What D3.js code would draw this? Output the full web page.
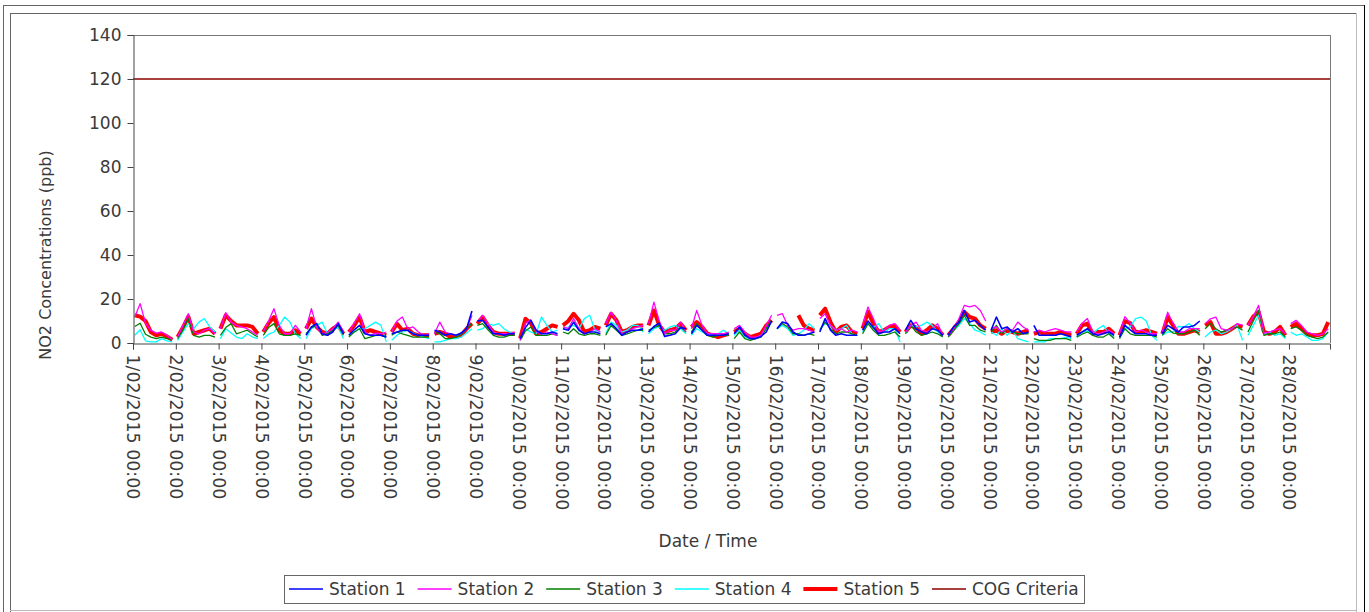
<!DOCTYPE html>
<html>
<head>
<meta charset="utf-8">
<script src="https://cdn.jsdelivr.net/npm/d3@7"></script>
<style>
  html, body { margin: 0; padding: 0; background: #fff; }
  svg { display: block; font-family: "DejaVu Sans", sans-serif; }
</style>
</head>
<body>
<svg id="chart" width="1369" height="612"></svg>
<script>
// sample hours inside each day (3-hourly)
const sampleHours = [1, 4, 7, 10, 13, 16, 19, 22];
const dayCount = 28;
const yTicks = [0, 20, 40, 60, 80, 100, 120, 140];
const criteria = 120;
const seriesNames = ["Station 1", "Station 2", "Station 3", "Station 4", "Station 5"];

const station1 = [
  null, null, null, null, null, null, null, null,
  null, null, null, null, null, null, null, null,
  null, null, null, null, null, null, null, null,
  null, null, null, null, null, null, null, null,
  3.5, 7.3, 8.8, 4.2, 3.5, 5.0, 8.8, 4.2,
  3.5, 6.0, 8.0, 4.2, 3.5, 3.5, 3.5, 2.7,
  4.2, 5.0, 5.8, 5.8, 4.2, 3.5, 3.5, 3.5,
  5.8, 5.0, 3.5, 4.2, 3.5, 4.5, 6.5, 14.5,
  10.0, 10.3, 7.3, 4.2, 4.2, 3.5, 4.2, 4.2,
  2.0, 7.0, 10.3, 5.8, 4.2, 4.2, 5.0, 4.2,
  6.5, 5.8, 9.5, 5.8, 4.2, 5.0, 5.0, 4.2,
  7.3, 8.8, 6.5, 3.5, 5.0, 5.8, 5.8, 6.5,
  5.0, 7.5, 9.0, 3.0, 3.5, 4.2, 7.0, 6.5,
  4.2, 8.0, 5.8, 3.5, 3.5, 3.5, 3.5, 4.2,
  4.2, 7.3, 3.5, 2.0, 2.0, 3.0, 5.0, 10.0,
  6.5, 9.5, 8.8, 5.0, 3.5, 3.5, 4.2, 5.0,
  5.0, 11.1, 5.8, 3.5, 4.2, 3.5, 3.5, 3.5,
  5.8, 10.0, 7.0, 4.2, 5.0, 5.0, 6.5, 4.2,
  5.8, 10.3, 6.5, 5.0, 4.2, 6.5, 5.8, 3.5,
  3.5, 7.3, 9.5, 14.8, 9.5, 10.3, 8.0, 5.8,
  5.8, 11.8, 6.5, 7.3, 5.0, 6.5, 4.2, 5.0,
  8.0, 3.5, 3.5, 3.5, 3.5, 4.2, 3.5, 2.7,
  3.5, 5.0, 6.5, 4.2, 3.5, 4.2, 5.0, 3.5,
  2.7, 8.0, 6.0, 4.2, 4.2, 4.2, 3.5, 3.5,
  4.2, 8.0, 6.5, 5.0, 7.3, 7.3, 8.0, 10.0,
  null, null, null, null, null, null, null, null,
  null, null, null, null, null, null, null, null,
  null, null, null, null, null, null, null, null
];

const station2 = [
  11.8, 17.9, 9.0, 5.8, 4.5, 5.0, 3.5, 1.5,
  2.7, 8.0, 13.3, 5.0, 4.2, 5.8, 6.5, 4.2,
  6.5, 13.8, 9.5, 8.0, 7.3, 6.5, 5.0, 3.5,
  5.0, 10.0, 15.6, 8.0, 4.2, 4.2, 8.0, 5.0,
  6.5, 15.6, 7.0, 4.2, 5.0, 6.5, 9.5, 5.0,
  5.0, 9.0, 13.3, 5.0, 3.5, 4.5, 4.2, 5.0,
  5.0, 10.0, 11.8, 6.5, 7.3, 5.0, 3.5, 4.2,
  4.2, 9.5, 5.0, 4.2, 3.5, 4.5, 6.5, 12.5,
  9.5, 12.6, 8.8, 5.0, 4.2, 4.2, 4.2, 5.0,
  1.2, 9.0, 10.5, 5.0, 4.2, 5.0, 4.2, 3.5,
  7.3, 6.5, 11.1, 6.5, 4.2, 5.0, 6.5, 5.0,
  8.8, 14.0, 10.0, 4.2, 5.0, 6.5, 7.3, 8.0,
  8.8, 18.6, 10.0, 4.2, 5.8, 5.8, 9.5, 5.0,
  6.5, 14.8, 8.0, 4.2, 4.2, 4.2, 4.2, 5.0,
  6.5, 8.0, 5.0, 2.7, 2.7, 3.5, 8.0, 12.6,
  12.6, 13.3, 8.0, 5.8, 6.5, 6.5, 5.8, 5.0,
  11.1, 13.3, 8.0, 5.8, 6.5, 5.0, 5.8, 5.0,
  8.0, 16.4, 11.1, 5.0, 5.8, 8.0, 8.8, 5.8,
  5.0, 8.0, 9.5, 5.8, 5.0, 6.5, 8.8, 3.5,
  3.5, 6.5, 11.0, 17.1, 16.4, 17.1, 14.8, 10.0,
  6.5, 7.3, 5.0, 6.5, 5.8, 9.5, 7.3, 5.8,
  5.0, 5.8, 5.0, 5.8, 6.5, 5.8, 5.0, 5.0,
  5.0, 9.0, 11.1, 5.0, 4.2, 5.0, 5.8, 4.2,
  4.2, 12.0, 9.0, 5.0, 5.8, 5.0, 4.2, 4.2,
  5.0, 14.0, 9.0, 5.0, 5.0, 6.5, 6.5, 6.5,
  8.8, 11.0, 11.8, 6.5, 5.8, 6.5, 8.8, 8.0,
  8.0, 12.0, 17.1, 4.5, 5.0, 5.8, 6.5, 4.2,
  8.8, 10.3, 8.0, 5.0, 4.2, 3.5, 4.2, 6.5
];

const station3 = [
  7.5, 9.0, 4.0, 2.7, 2.0, 2.7, 2.0, 1.5,
  2.0, 6.0, 11.1, 3.5, 2.7, 3.5, 3.5, 2.7,
  3.5, 7.0, 8.8, 4.2, 5.0, 5.8, 4.2, 2.7,
  3.5, 7.0, 8.8, 4.2, 3.5, 3.5, 4.2, 3.5,
  4.2, 7.0, 8.0, 3.5, 4.2, 5.8, 8.0, 3.5,
  2.7, 5.0, 6.5, 2.0, 2.7, 3.5, 3.5, 2.7,
  3.5, 5.0, 4.2, 3.5, 2.7, 2.7, 2.7, 2.7,
  5.0, 4.2, 2.0, 2.0, 2.7, 4.0, 6.5, 9.0,
  8.0, 8.8, 6.0, 3.5, 2.7, 2.7, 3.5, 3.5,
  1.2, 5.5, 7.3, 3.5, 3.5, 3.5, 4.2, 3.5,
  5.0, 4.2, 6.5, 4.2, 3.5, 4.2, 4.2, 3.5,
  3.5, 8.0, 5.8, 3.5, 4.2, 5.0, 5.8, 5.8,
  5.8, 7.0, 8.0, 4.2, 4.2, 5.0, 7.3, 5.0,
  5.0, 8.8, 5.8, 3.5, 2.7, 3.5, 3.5, 3.5,
  2.0, 5.0, 2.0, 1.2, 2.0, 2.7, 6.5, 10.3,
  6.5, 8.8, 7.3, 4.2, 4.2, 3.5, 4.2, 3.5,
  5.8, 9.5, 6.5, 4.2, 5.0, 5.0, 4.2, 3.5,
  4.2, 8.8, 5.8, 3.5, 3.5, 4.2, 5.0, 2.7,
  4.2, 8.0, 5.0, 3.5, 4.2, 5.0, 4.2, 2.7,
  2.7, 5.8, 8.8, 12.6, 8.0, 8.0, 5.8, 5.0,
  5.0, 8.0, 4.2, 6.5, 5.0, 4.2, 4.2, 4.2,
  2.0, 1.2, 1.2, 1.2, 2.0, 2.0, 2.0, 1.2,
  2.7, 4.0, 5.0, 3.5, 2.7, 2.7, 4.2, 2.0,
  2.0, 6.5, 4.2, 3.5, 3.5, 3.5, 3.5, 2.7,
  3.5, 6.5, 4.5, 4.2, 4.2, 5.0, 5.8, 3.5,
  6.5, 8.8, 6.5, 5.0, 5.8, 6.5, 7.3, 5.8,
  5.0, 10.0, 14.8, 3.5, 4.2, 4.2, 5.0, 2.7,
  6.5, 7.3, 5.8, 3.5, 2.7, 2.0, 2.7, 5.0
];

const station4 = [
  3.5, 6.0, 1.0, 0.5, 0.5, 2.0, 1.0, 0.5,
  1.2, 5.0, 8.8, 6.5, 9.5, 11.1, 7.3, 5.0,
  2.0, 6.5, 4.5, 2.7, 2.0, 4.2, 2.7, 2.0,
  2.0, 4.0, 5.0, 8.0, 11.8, 9.5, 4.2, 2.0,
  2.0, 6.5, 8.0, 9.5, 4.2, 5.8, 7.3, 2.0,
  3.5, 5.0, 6.5, 6.5, 8.0, 9.5, 8.0, 0.5,
  1.2, 3.5, 5.0, 5.8, 4.5, 3.5, 2.7, 2.0,
  0.5, 0.5, 1.2, 2.0, 2.0, 2.7, 4.5, 6.5,
  5.8, 6.5, 8.8, 8.0, 8.8, 6.5, 5.0, 4.2,
  2.0, 6.5, 5.0, 4.2, 11.8, 8.0, 5.0, 5.8,
  6.5, 7.3, 8.0, 6.5, 11.1, 12.6, 5.8, 5.0,
  4.2, 9.5, 8.0, 5.0, 5.8, 8.0, 8.0, 5.0,
  4.2, 6.5, 7.3, 5.8, 7.3, 8.0, 6.5, 4.2,
  3.5, 6.5, 5.0, 3.5, 4.2, 4.2, 5.8, 4.2,
  3.5, 5.8, 2.7, 2.0, 2.0, 3.5, 6.5, 9.5,
  6.5, 8.0, 6.5, 3.5, 4.2, 5.8, 8.8, 6.5,
  6.5, 8.8, 8.0, 5.8, 6.5, 8.0, 4.2, 3.5,
  5.0, 9.0, 7.0, 8.8, 5.0, 6.5, 6.5, 0.5,
  4.2, 8.0, 7.3, 8.0, 9.5, 8.0, 5.0, 3.5,
  3.5, 5.8, 8.0, 11.1, 8.8, 5.8, 5.0, 3.5,
  5.0, 3.5, 6.5, 3.5, 5.8, 2.0, 1.2, 0.5,
  0.5, 0.5, 0.5, 2.0, 2.0, 2.0, 2.7, 2.0,
  2.7, 5.0, 5.5, 4.2, 6.5, 8.0, 4.2, 2.7,
  2.7, 6.5, 7.3, 11.1, 11.8, 10.0, 3.5, 1.2,
  3.5, 5.0, 5.0, 7.5, 7.3, 8.8, 6.5, 5.0,
  2.7, 5.0, 5.8, 4.2, 5.0, 6.5, 8.0, 1.2,
  3.5, 8.0, 12.6, 4.2, 5.0, 3.5, 4.2, 2.0,
  5.0, 3.5, 4.2, 2.7, 1.2, 1.2, 2.0, 5.0
];

const station5 = [
  12.6, 12.0, 10.0, 5.0, 3.5, 4.2, 3.0, 1.5,
  2.7, 7.0, 12.0, 4.2, 5.0, 5.8, 6.5, 4.2,
  6.5, 12.6, 10.0, 8.0, 8.0, 8.0, 7.3, 4.2,
  5.0, 9.0, 11.8, 5.8, 4.2, 4.2, 5.8, 4.2,
  6.5, 11.1, 7.3, 5.0, 4.2, 6.5, 8.0, 4.2,
  5.0, 8.0, 11.8, 5.0, 5.8, 5.0, 4.2, 3.5,
  5.0, 8.8, 5.8, 6.5, 4.2, 3.5, 3.5, 3.5,
  4.2, 5.0, 4.2, 2.7, 2.7, 3.5, 6.5, 8.8,
  8.8, 11.8, 8.0, 5.0, 4.2, 4.2, 4.2, 4.2,
  2.0, 11.0, 9.0, 4.2, 5.0, 6.5, 8.0, 7.3,
  8.0, 10.0, 13.3, 10.3, 5.0, 5.8, 7.3, 6.5,
  8.0, 13.3, 10.3, 5.0, 5.8, 7.3, 8.0, 8.0,
  8.0, 14.8, 8.0, 5.0, 5.8, 6.5, 8.8, 5.8,
  7.3, 9.5, 7.3, 4.2, 3.5, 2.7, 3.5, 4.2,
  5.0, 6.5, 4.2, 2.7, 3.5, 4.2, 8.0, 10.3,
  null, null, null, null, 12.6, 8.0, 6.5, 5.8,
  12.6, 15.6, 9.5, 5.0, 7.3, 8.0, 5.0, 4.2,
  6.5, 14.1, 8.8, 5.0, 5.8, 7.3, 8.0, 5.0,
  5.0, 8.0, 7.0, 4.2, 5.8, 8.0, 6.5, 3.5,
  3.5, 6.5, 9.5, 14.1, 11.8, 11.1, 8.0, 6.5,
  5.0, 5.8, 4.2, 5.8, 5.0, 4.2, 5.0, 5.8,
  4.2, 5.0, 4.2, 4.2, 4.2, 5.0, 4.2, 3.5,
  4.2, 8.0, 8.8, 4.2, 5.0, 5.0, 6.5, 4.2,
  3.5, 10.0, 9.0, 5.0, 5.0, 5.8, 5.0, 4.2,
  4.2, 11.8, 8.0, 4.2, 4.2, 5.0, 5.8, 5.0,
  8.0, 9.5, 4.2, 4.2, 5.0, 6.5, 8.0, 7.3,
  8.0, 12.0, 14.1, 5.0, 4.2, 5.0, 7.3, 3.5,
  7.3, 8.8, 6.5, 4.2, 3.5, 3.5, 4.2, 9.5
];

const seriesValues = [station1, station2, station3, station4, station5];
const seriesColors = ["#0000ff", "#ff00ff", "#008000", "#00ffff", "#ff0000"];
const seriesWidths = [1.6, 1.3, 1.3, 1.3, 4];
const criteriaColor = "#8b0000";

const W = 1369, H = 612;
const margin = { left: 133, right: 1330, top: 35, bottom: 343 };
const textColor = "#3a3a3a";
const fontSize = "17px";

const svg = d3.select("#chart");

// page frames
const frame = svg.append("g");
frame.append("line").attr("x1", 3).attr("x2", 1365).attr("y1", 5.5).attr("y2", 5.5).attr("stroke", "#666");
frame.append("line").attr("x1", 3.5).attr("x2", 3.5).attr("y1", 5).attr("y2", H).attr("stroke", "#666");
frame.append("line").attr("x1", 1364.5).attr("x2", 1364.5).attr("y1", 5).attr("y2", H).attr("stroke", "#000");
frame.append("line").attr("x1", 10).attr("x2", 1357).attr("y1", 13.5).attr("y2", 13.5).attr("stroke", "#666");
frame.append("line").attr("x1", 10.5).attr("x2", 10.5).attr("y1", 13).attr("y2", 612).attr("stroke", "#666");
frame.append("line").attr("x1", 1356.5).attr("x2", 1356.5).attr("y1", 13).attr("y2", 612).attr("stroke", "#bbb");
frame.append("line").attr("x1", 10).attr("x2", 1357).attr("y1", 610.5).attr("y2", 610.5).attr("stroke", "#bbb");

const start = new Date(Date.UTC(2015, 1, 1, 0));
const end = new Date(Date.UTC(2015, 1, 28, 23));

const x = d3.scaleTime().domain([start, end]).range([margin.left, margin.right]);
const y = d3.scaleLinear().domain([0, 140]).range([margin.bottom, margin.top]);

// build points per series, with a break between days
function buildPoints(values) {
  const pts = [];
  for (let d = 0; d < dayCount; d++) {
    sampleHours.forEach((h, i) => {
      pts.push({ t: new Date(Date.UTC(2015, 1, d + 1, h)), v: values[d * sampleHours.length + i] });
    });
    pts.push({ t: null, v: null });
  }
  return pts;
}

// plot border (top/right)
svg.append("line").attr("x1", margin.left).attr("x2", margin.right + 0.5).attr("y1", margin.top + 0.5).attr("y2", margin.top + 0.5).attr("stroke", "#777");
svg.append("line").attr("x1", margin.right + 0.5).attr("x2", margin.right + 0.5).attr("y1", margin.top).attr("y2", margin.bottom).attr("stroke", "#777");

const plot = svg.append("g");

const line = d3.line()
  .defined(d => d.v != null)
  .x(d => x(d.t))
  .y(d => y(d.v));

// draw station 5 first so thinner lines sit above it
for (let i = seriesValues.length - 1; i >= 0; i--) {
  plot.append("path")
    .datum(buildPoints(seriesValues[i]))
    .attr("fill", "none")
    .attr("stroke", seriesColors[i])
    .attr("stroke-width", seriesWidths[i])
    .attr("stroke-linejoin", "round")
    .attr("d", line);
}

// COG criteria
plot.append("line")
  .attr("x1", x(start)).attr("x2", x(end))
  .attr("y1", y(criteria)).attr("y2", y(criteria))
  .attr("stroke", criteriaColor)
  .attr("stroke-width", 1.5);

// y axis
const yAxis = svg.append("g")
  .attr("transform", `translate(${margin.left + 0.5},0)`)
  .call(d3.axisLeft(y).tickValues(yTicks).tickSize(6).tickPadding(6));
yAxis.select(".domain").attr("stroke", "#444");
yAxis.selectAll(".tick line").attr("stroke", "#444");
yAxis.selectAll("text").attr("fill", textColor).style("font-size", fontSize).style("font-family", "DejaVu Sans");

// x axis
const dayTicks = d3.utcDay.range(start, new Date(Date.UTC(2015, 1, 29)));
const xAxis = svg.append("g")
  .attr("transform", `translate(0,${margin.bottom + 0.5})`)
  .call(d3.axisBottom(x).tickValues(dayTicks).tickSize(6).tickFormat(d3.utcFormat("%-d/%m/%Y %H:%M")));
xAxis.select(".domain").attr("stroke", "#444");
xAxis.selectAll(".tick line").attr("stroke", "#444");
xAxis.selectAll("text")
  .attr("fill", textColor)
  .style("font-size", "17.4px")
  .style("font-family", "DejaVu Sans")
  .attr("transform", "rotate(90)")
  .attr("text-anchor", "start")
  .attr("x", 11)
  .attr("y", 0)
  .attr("dy", "0.35em");

// axis titles
svg.append("text")
  .attr("transform", "translate(51,255) rotate(-90)")
  .attr("text-anchor", "middle")
  .attr("fill", textColor)
  .style("font-size", "16px")
  .text("NO2 Concentrations (ppb)");

svg.append("text")
  .attr("x", 708).attr("y", 547)
  .attr("text-anchor", "middle")
  .attr("fill", textColor)
  .style("font-size", fontSize)
  .text("Date / Time");

// legend
const legendItems = seriesNames.map((n, i) => ({ name: n, color: seriesColors[i], width: seriesWidths[i] }))
  .concat([{ name: "COG Criteria", color: criteriaColor, width: 1.5 }]);

const legend = svg.append("g");
legend.append("rect")
  .attr("x", 284.5).attr("y", 575.5).attr("width", 800).attr("height", 28)
  .attr("fill", "#fff").attr("stroke", "#666");

const item = legend.selectAll("g.item")
  .data(legendItems)
  .join("g")
  .attr("class", "item")
  .attr("transform", (d, i) => `translate(${289 + i * 128.6},589)`);

item.append("line")
  .attr("x1", 0).attr("x2", 34)
  .attr("stroke", d => d.color)
  .attr("stroke-width", d => d.width);

item.append("text")
  .attr("x", 40).attr("dy", "0.35em")
  .attr("fill", textColor)
  .style("font-size", fontSize)
  .text(d => d.name);
</script>
</body>
</html>
